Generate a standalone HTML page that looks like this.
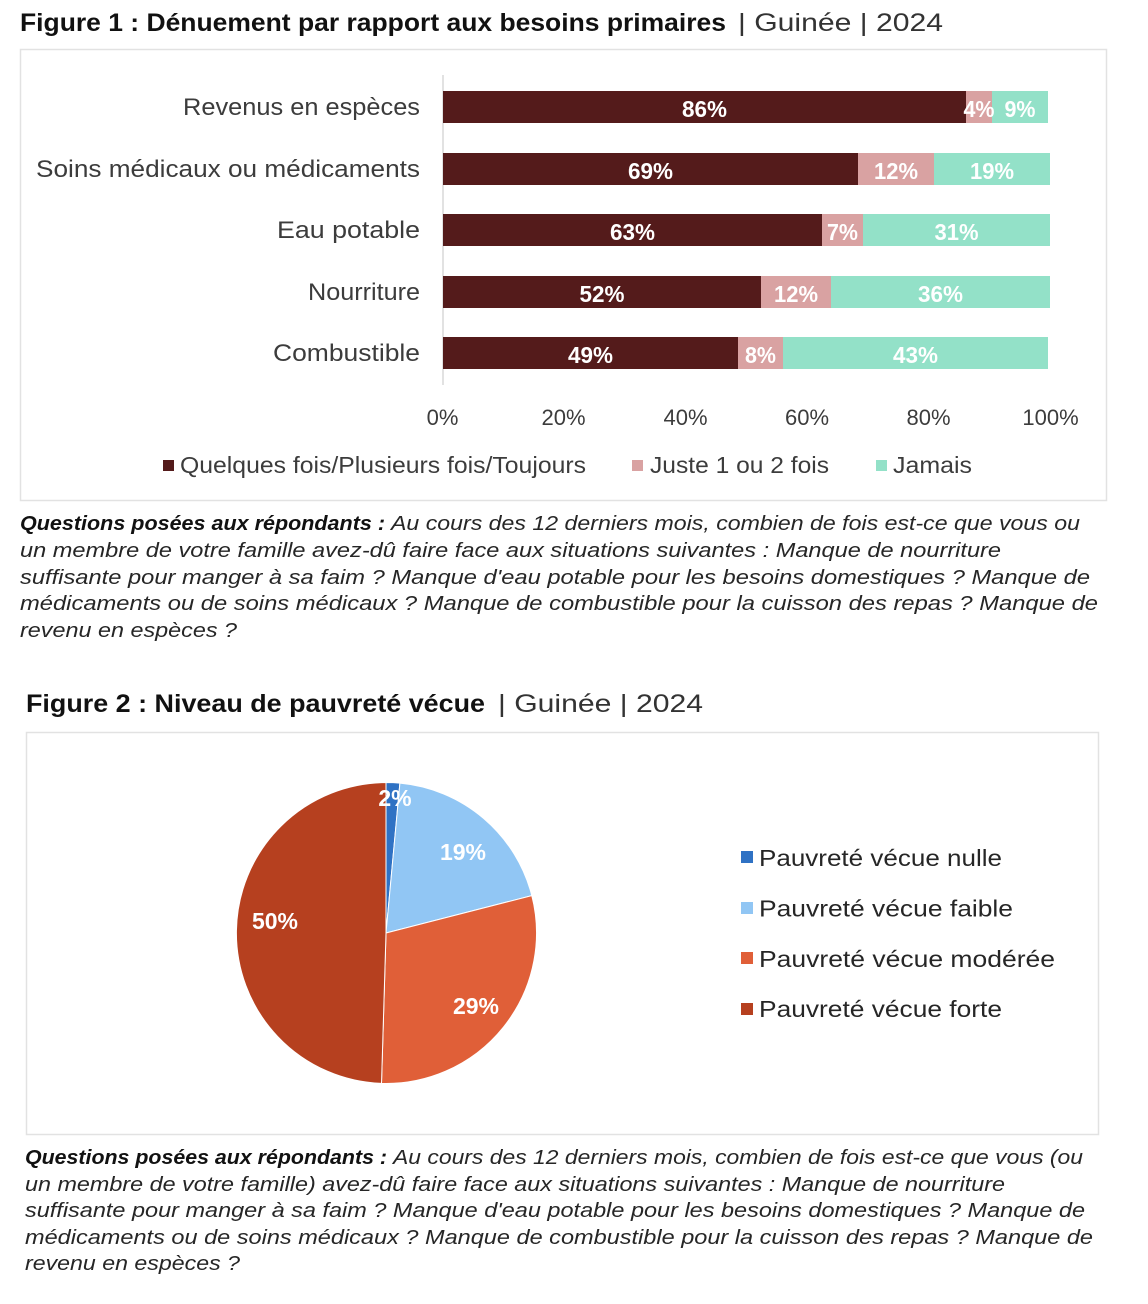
<!DOCTYPE html>
<html>
<head>
<meta charset="utf-8">
<style>
  html, body { margin:0; padding:0; background:#ffffff; }
  svg { display:block; }
  text { font-family: "Liberation Sans", "DejaVu Sans", sans-serif; }
</style>
</head>
<body>
<svg width="1148" height="1304" viewBox="0 0 1148 1304" xmlns="http://www.w3.org/2000/svg">
  <rect x="0" y="0" width="1148" height="1304" fill="#ffffff"/>

  <!-- ===== Figure 1 title ===== -->
  <text x="20" y="31" font-size="25" font-weight="bold" fill="#111" textLength="706" lengthAdjust="spacingAndGlyphs">Figure 1 : Dénuement par rapport aux besoins primaires</text>
  <text x="738" y="31" font-size="25" fill="#333" textLength="205" lengthAdjust="spacingAndGlyphs">| Guinée | 2024</text>

  <!-- Box 1 -->
  <rect x="20.5" y="49.5" width="1086" height="451" fill="#fff" stroke="#e2e2e2" stroke-width="1.5"/>

  <!-- axis line -->
  <line x1="443" y1="75" x2="443" y2="385" stroke="#d9d9d9" stroke-width="1.5"/>

  <!-- Category labels -->
  <g font-size="24" fill="#3c3c3c">
    <text x="183" y="115" textLength="237" lengthAdjust="spacingAndGlyphs">Revenus en espèces</text>
    <text x="36" y="177" textLength="384" lengthAdjust="spacingAndGlyphs">Soins médicaux ou médicaments</text>
    <text x="277" y="238" textLength="143" lengthAdjust="spacingAndGlyphs">Eau potable</text>
    <text x="308" y="300" textLength="112" lengthAdjust="spacingAndGlyphs">Nourriture</text>
    <text x="273" y="361" textLength="147" lengthAdjust="spacingAndGlyphs">Combustible</text>
  </g>

  <!-- Bars -->
  <g>
    <rect x="443" y="91" width="523" height="32" fill="#541b1b"/>
    <rect x="966" y="91" width="26" height="32" fill="#d9a2a2"/>
    <rect x="992" y="91" width="56" height="32" fill="#93e1c8"/>
    <rect x="443" y="153" width="415" height="32" fill="#541b1b"/>
    <rect x="858" y="153" width="76" height="32" fill="#d9a2a2"/>
    <rect x="934" y="153" width="116" height="32" fill="#93e1c8"/>
    <rect x="443" y="214" width="379" height="32" fill="#541b1b"/>
    <rect x="822" y="214" width="41" height="32" fill="#d9a2a2"/>
    <rect x="863" y="214" width="187" height="32" fill="#93e1c8"/>
    <rect x="443" y="276" width="318" height="32" fill="#541b1b"/>
    <rect x="761" y="276" width="70" height="32" fill="#d9a2a2"/>
    <rect x="831" y="276" width="219" height="32" fill="#93e1c8"/>
    <rect x="443" y="337" width="295" height="32" fill="#541b1b"/>
    <rect x="738" y="337" width="45" height="32" fill="#d9a2a2"/>
    <rect x="783" y="337" width="265" height="32" fill="#93e1c8"/>
  </g>

  <!-- Bar labels -->
  <g font-size="23" font-weight="bold" fill="#ffffff" text-anchor="middle">
    <text x="704.5" y="117" textLength="45" lengthAdjust="spacingAndGlyphs">86%</text>
    <text x="979" y="117" textLength="31" lengthAdjust="spacingAndGlyphs">4%</text>
    <text x="1020" y="117" textLength="31" lengthAdjust="spacingAndGlyphs">9%</text>

    <text x="650.5" y="179" textLength="45" lengthAdjust="spacingAndGlyphs">69%</text>
    <text x="896" y="179" textLength="44" lengthAdjust="spacingAndGlyphs">12%</text>
    <text x="992" y="179" textLength="44" lengthAdjust="spacingAndGlyphs">19%</text>

    <text x="632.5" y="240" textLength="45" lengthAdjust="spacingAndGlyphs">63%</text>
    <text x="842.5" y="240" textLength="31" lengthAdjust="spacingAndGlyphs">7%</text>
    <text x="956.5" y="240" textLength="44" lengthAdjust="spacingAndGlyphs">31%</text>

    <text x="602" y="302" textLength="45" lengthAdjust="spacingAndGlyphs">52%</text>
    <text x="796" y="302" textLength="44" lengthAdjust="spacingAndGlyphs">12%</text>
    <text x="940.5" y="302" textLength="45" lengthAdjust="spacingAndGlyphs">36%</text>

    <text x="590.5" y="363" textLength="45" lengthAdjust="spacingAndGlyphs">49%</text>
    <text x="760.5" y="363" textLength="31" lengthAdjust="spacingAndGlyphs">8%</text>
    <text x="915.5" y="363" textLength="45" lengthAdjust="spacingAndGlyphs">43%</text>
  </g>

  <!-- X axis tick labels -->
  <g font-size="22" fill="#3c3c3c" text-anchor="middle">
    <text x="442.5" y="425">0%</text>
    <text x="563.5" y="425">20%</text>
    <text x="685.5" y="425">40%</text>
    <text x="807" y="425">60%</text>
    <text x="928.5" y="425">80%</text>
    <text x="1050.5" y="425">100%</text>
  </g>

  <!-- Legend fig 1 -->
  <rect x="163" y="460" width="11" height="11" fill="#541b1b"/>
  <text x="180" y="473" font-size="23" fill="#3c3c3c" textLength="406" lengthAdjust="spacingAndGlyphs">Quelques fois/Plusieurs fois/Toujours</text>
  <rect x="632" y="460" width="11" height="11" fill="#d9a2a2"/>
  <text x="650" y="473" font-size="23" fill="#3c3c3c" textLength="179" lengthAdjust="spacingAndGlyphs">Juste 1 ou 2 fois</text>
  <rect x="876" y="460" width="11" height="11" fill="#93e1c8"/>
  <text x="893" y="473" font-size="23" fill="#3c3c3c" textLength="79" lengthAdjust="spacingAndGlyphs">Jamais</text>

  <!-- Questions fig 1 -->
  <g font-size="20" font-style="italic" fill="#262626">
    <text x="20" y="530" font-weight="bold" fill="#111" textLength="365" lengthAdjust="spacingAndGlyphs">Questions posées aux répondants :</text>
    <text x="391" y="530" textLength="689" lengthAdjust="spacingAndGlyphs">Au cours des 12 derniers mois, combien de fois est-ce que vous ou</text>
    <text x="20" y="557" textLength="981" lengthAdjust="spacingAndGlyphs">un membre de votre famille avez-dû faire face aux situations suivantes : Manque de nourriture</text>
    <text x="20" y="584" textLength="1070" lengthAdjust="spacingAndGlyphs">suffisante pour manger à sa faim ? Manque d'eau potable pour les besoins domestiques ? Manque de</text>
    <text x="20" y="610" textLength="1078" lengthAdjust="spacingAndGlyphs">médicaments ou de soins médicaux ? Manque de combustible pour la cuisson des repas ? Manque de</text>
    <text x="20" y="637" textLength="217" lengthAdjust="spacingAndGlyphs">revenu en espèces ?</text>
  </g>

  <!-- ===== Figure 2 title ===== -->
  <text x="26" y="712" font-size="25" font-weight="bold" fill="#111" textLength="459" lengthAdjust="spacingAndGlyphs">Figure 2 : Niveau de pauvreté vécue</text>
  <text x="498" y="712" font-size="25" fill="#333" textLength="205" lengthAdjust="spacingAndGlyphs">| Guinée | 2024</text>

  <!-- Box 2 -->
  <rect x="26.5" y="732.5" width="1072" height="402" fill="#fff" stroke="#e2e2e2" stroke-width="1.5"/>

  <!-- Pie -->
  <g stroke="#ffffff" stroke-width="1" stroke-linejoin="round">
    <path d="M386,933 L386,782.5 A150.5,150.5 0 0 1 399.9,783.1 Z" fill="#2f72c4"/>
    <path d="M386,933 L399.9,783.1 A150.5,150.5 0 0 1 531.8,895.6 Z" fill="#91c6f4"/>
    <path d="M386,933 L531.8,895.6 A150.5,150.5 0 0 1 381.5,1083.4 Z" fill="#e05f38"/>
    <path d="M386,933 L381.5,1083.4 A150.5,150.5 0 0 1 386,782.5 Z" fill="#b6401f"/>
  </g>
  <g font-size="23" font-weight="bold" fill="#ffffff" text-anchor="middle">
    <text x="395" y="806">2%</text>
    <text x="463" y="860">19%</text>
    <text x="275" y="929">50%</text>
    <text x="476" y="1014">29%</text>
  </g>

  <!-- Legend fig 2 -->
  <g font-size="23" fill="#262626">
    <rect x="741" y="851" width="12" height="12" fill="#2f72c4"/>
    <text x="759" y="866" textLength="243" lengthAdjust="spacingAndGlyphs">Pauvreté vécue nulle</text>
    <rect x="741" y="902" width="12" height="12" fill="#91c6f4"/>
    <text x="759" y="916.5" textLength="254" lengthAdjust="spacingAndGlyphs">Pauvreté vécue faible</text>
    <rect x="741" y="952" width="12" height="12" fill="#e05f38"/>
    <text x="759" y="967" textLength="296" lengthAdjust="spacingAndGlyphs">Pauvreté vécue modérée</text>
    <rect x="741" y="1003" width="12" height="12" fill="#b6401f"/>
    <text x="759" y="1017" textLength="243" lengthAdjust="spacingAndGlyphs">Pauvreté vécue forte</text>
  </g>

  <!-- Questions fig 2 -->
  <g font-size="20" font-style="italic" fill="#262626">
    <text x="25" y="1164" font-weight="bold" fill="#111" textLength="362" lengthAdjust="spacingAndGlyphs">Questions posées aux répondants :</text>
    <text x="393" y="1164" textLength="690" lengthAdjust="spacingAndGlyphs">Au cours des 12 derniers mois, combien de fois est-ce que vous (ou</text>
    <text x="25" y="1191" textLength="980" lengthAdjust="spacingAndGlyphs">un membre de votre famille) avez-dû faire face aux situations suivantes : Manque de nourriture</text>
    <text x="25" y="1217" textLength="1060" lengthAdjust="spacingAndGlyphs">suffisante pour manger à sa faim ? Manque d'eau potable pour les besoins domestiques ? Manque de</text>
    <text x="25" y="1244" textLength="1068" lengthAdjust="spacingAndGlyphs">médicaments ou de soins médicaux ? Manque de combustible pour la cuisson des repas ? Manque de</text>
    <text x="25" y="1270" textLength="215" lengthAdjust="spacingAndGlyphs">revenu en espèces ?</text>
  </g>
</svg>
</body>
</html>
